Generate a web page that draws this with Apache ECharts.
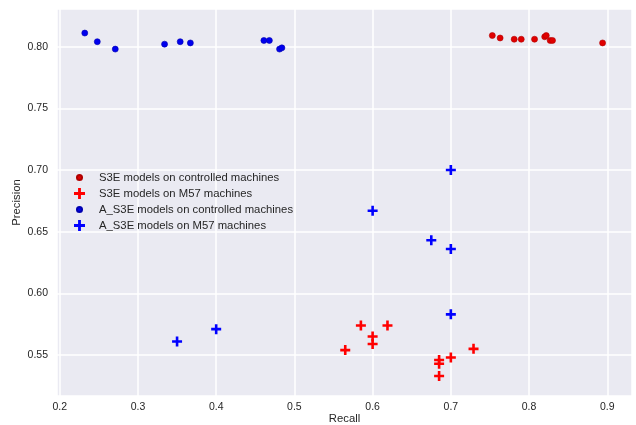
<!DOCTYPE html>
<html>
<head>
<meta charset="utf-8">
<script src="https://cdn.jsdelivr.net/npm/echarts@6/dist/echarts.min.js"></script>
<style>
	html, body { margin: 0; padding: 0; background: #fff; }
	#main { width: 636px; height: 425px; }
</style>
</head>
<body>
<div id="main"></div>
<script>
// S3E 模型 - 受控机器
const s3eCtrlRecall = [0.753, 0.763, 0.781, 0.790, 0.807, 0.820, 0.822, 0.827, 0.830, 0.894];
const s3eCtrlPrecision = [0.809, 0.807, 0.806, 0.806, 0.806, 0.808, 0.809, 0.805, 0.805, 0.803];

// S3E 模型 - M57 机器
const s3eM57Recall = [0.565, 0.585, 0.600, 0.600, 0.619, 0.729, 0.700, 0.685, 0.685, 0.685];
const s3eM57Precision = [0.554, 0.574, 0.565, 0.559, 0.574, 0.555, 0.548, 0.546, 0.543, 0.533];

// A_S3E 模型 - 受控机器
const as3eCtrlRecall = [0.232, 0.248, 0.271, 0.334, 0.354, 0.367, 0.461, 0.468, 0.481, 0.484];
const as3eCtrlPrecision = [0.811, 0.804, 0.798, 0.802, 0.804, 0.803, 0.805, 0.805, 0.798, 0.799];

// A_S3E 模型 - M57 机器
const as3eM57Recall = [0.700, 0.600, 0.675, 0.700, 0.700, 0.350, 0.400];
const as3eM57Precision = [0.700, 0.667, 0.643, 0.636, 0.583, 0.561, 0.571];

const seriesNames = [
	'S3E models on controlled machines',
	'S3E models on M57 machines',
	'A_S3E models on controlled machines',
	'A_S3E models on M57 machines'
];

const PLUS = 'path://M3.7,0h2.6v3.7h3.7v2.6h-3.7v3.7h-2.6v-3.7h-3.7v-2.6h3.7z';
const SMALL_DOT = 'path://M0,0L0.01,0.01Z M2.7,5a2.3,2.3 0 1,0 4.6,0a2.3,2.3 0 1,0 -4.6,0Z M10,10L9.99,9.99Z';

const zip = (xs, ys) => xs.map((x, i) => [x, ys[i]]);

const textColor = '#262626';
const fontFamily = '"Liberation Sans", Arial, sans-serif';

const chart = echarts.init(document.getElementById('main'));

chart.setOption({
	backgroundColor: '#fff',
	animation: false,
	textStyle: { fontFamily: fontFamily },
	grid: {
		left: 57, right: 4, top: 9, bottom: 29,
		outerBoundsMode: 'none',
		containLabel: false,
		show: true,
		backgroundColor: '#EAEAF2',
		borderWidth: 0
	},
	legend: {
		orient: 'vertical',
		left: 68,
		top: 166,
		padding: 5,
		itemWidth: 11,
		itemHeight: 11,
		itemGap: 4,
		textStyle: { color: textColor, fontSize: 11.3, fontFamily: fontFamily, padding: [0, 0, 0, 9] },
		data: [
			{ name: seriesNames[0], icon: SMALL_DOT },
			{ name: seriesNames[1], icon: PLUS },
			{ name: seriesNames[2], icon: SMALL_DOT },
			{ name: seriesNames[3], icon: PLUS }
		]
	},
	xAxis: {
		type: 'value',
		min: 0.1965,
		max: 0.9316,
		splitNumber: 7,
		name: 'Recall',
		nameLocation: 'middle',
		nameGap: 17,
		nameMoveOverlap: false,
		nameTextStyle: { color: textColor, fontSize: 11.3 },
		axisLine: { show: false },
		axisTick: { show: false },
		axisLabel: {
			color: textColor, fontSize: 10.5, margin: 6,
			showMinLabel: false, showMaxLabel: false,
			formatter: v => v.toFixed(1)
		},
		splitLine: { lineStyle: { color: '#fff', width: 1.5 } }
	},
	yAxis: {
		type: 'value',
		min: 0.5168,
		max: 0.8305,
		splitNumber: 6,
		name: 'Precision',
		nameLocation: 'middle',
		nameGap: 35,
		nameMoveOverlap: false,
		nameRotate: 90,
		nameTextStyle: { color: textColor, fontSize: 11.3 },
		axisLine: { show: false },
		axisTick: { show: false },
		axisLabel: {
			color: textColor, fontSize: 10.5, margin: 9,
			showMinLabel: false, showMaxLabel: false,
			formatter: v => v.toFixed(2)
		},
		splitLine: { lineStyle: { color: '#fff', width: 1.5 } }
	},
	series: [
		{
			name: seriesNames[0],
			type: 'scatter',
			symbol: 'circle',
			symbolSize: 6,
			itemStyle: { color: '#e00000', borderColor: '#b00000', borderWidth: 0.6, opacity: 1 },
			data: zip(s3eCtrlRecall, s3eCtrlPrecision)
		},
		{
			name: seriesNames[1],
			type: 'scatter',
			symbol: PLUS,
			symbolSize: 10,
			itemStyle: { color: '#ff0000', opacity: 1 },
			data: zip(s3eM57Recall, s3eM57Precision)
		},
		{
			name: seriesNames[2],
			type: 'scatter',
			symbol: 'circle',
			symbolSize: 6,
			itemStyle: { color: '#0000ee', borderColor: '#0000b0', borderWidth: 0.6, opacity: 1 },
			data: zip(as3eCtrlRecall, as3eCtrlPrecision)
		},
		{
			name: seriesNames[3],
			type: 'scatter',
			symbol: PLUS,
			symbolSize: 10,
			itemStyle: { color: '#0000ff', opacity: 1 },
			data: zip(as3eM57Recall, as3eM57Precision)
		}
	]
});
</script>
</body>
</html>
